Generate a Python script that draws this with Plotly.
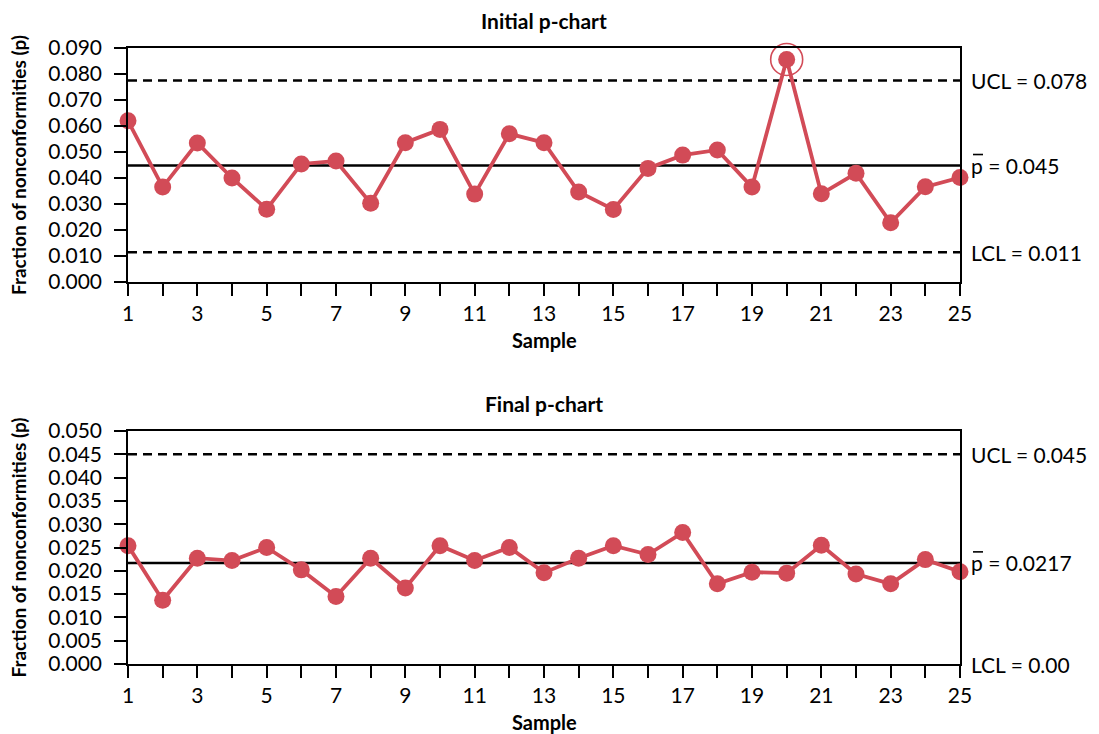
import plotly.graph_objects as go

# ---------------- data ----------------
samples = list(range(1, 26))
initial_p = [0.0620, 0.0365, 0.0535, 0.0400, 0.0280, 0.0454, 0.0465, 0.0303, 0.0536, 0.0587,
             0.0338, 0.0570, 0.0536, 0.0346, 0.0279, 0.0437, 0.0488, 0.0508, 0.0365, 0.0856,
             0.0339, 0.0418, 0.0228, 0.0366, 0.0402]
final_p = [0.0254, 0.0137, 0.0227, 0.0222, 0.0250, 0.0202, 0.0145, 0.0227, 0.0163, 0.0254,
           0.0222, 0.0250, 0.0196, 0.0227, 0.0254, 0.0235, 0.0282, 0.0172, 0.0197, 0.0195,
           0.0255, 0.0193, 0.0172, 0.0224, 0.0198]
initial_limits = {"UCL": 0.0775, "center": 0.0448, "LCL": 0.0114}
final_limits = {"UCL": 0.0450, "center": 0.0217, "LCL": 0.0}
initial_labels = {"UCL": "UCL = 0.078", "center": "p = 0.045", "LCL": "LCL = 0.011"}
final_labels = {"UCL": "UCL = 0.045", "center": "p = 0.0217", "LCL": "LCL = 0.00"}
out_of_control = [20]
initial_yticks = [0.000, 0.010, 0.020, 0.030, 0.040, 0.050, 0.060, 0.070, 0.080, 0.090]
final_yticks = [0.000, 0.005, 0.010, 0.015, 0.020, 0.025, 0.030, 0.035, 0.040, 0.045, 0.050]
xtick_text = [str(s) if s % 2 == 1 else "" for s in samples]
y_title = "Fraction of nonconformities (p)"

# ---------------- style / layout ----------------
RED = "#d24b57"
FONT = "Lato"
OFF = 8  # page body margin offset
W, H = 1091, 726
ML, MR, MT, MB = 120, 139, 40, 70
PW = W - ML - MR
PH = H - MT - MB


def pdom(top_px, bot_px):
    # page pixel rows -> paper fractions
    return [(H - MB - (bot_px - OFF)) / PH, (H - MB - (top_px - OFF)) / PH]


top_dom = pdom(48, 282)
bot_dom = pdom(431, 664)

fig = go.Figure()

panels = [
    ("x", "y", initial_p, initial_limits, initial_labels, initial_yticks, 0.090, top_dom, "Initial p-chart", True),
    ("x2", "y2", final_p, final_limits, final_labels, final_yticks, 0.050, bot_dom, "Final p-chart", False),
]

for xa, ya, vals, lim, lab, yt, ymax, dom, title, draw_lcl in panels:
    fig.add_trace(go.Scatter(
        x=samples, y=vals, xaxis=xa, yaxis=ya, mode="lines+markers",
        line=dict(color=RED, width=3.8),
        marker=dict(color=RED, size=17),
        cliponaxis=False, showlegend=False))
    xd = f"{xa} domain"
    fig.add_shape(type="line", xref=xd, yref=ya, x0=0, x1=1, y0=lim["center"], y1=lim["center"],
                  line=dict(color="black", width=2.5), layer="below")
    fig.add_shape(type="line", xref=xd, yref=ya, x0=0, x1=1, y0=lim["UCL"], y1=lim["UCL"],
                  line=dict(color="black", width=2.5, dash="9px,6px"), layer="below")
    if draw_lcl:
        fig.add_shape(type="line", xref=xd, yref=ya, x0=0, x1=1, y0=lim["LCL"], y1=lim["LCL"],
                      line=dict(color="black", width=2.5, dash="9px,6px"), layer="below")
    for k in ["UCL", "center", "LCL"]:
        fig.add_annotation(xref=xd, yref=ya, x=1, y=lim[k], text=lab[k], showarrow=False,
                           xanchor="left", yanchor="middle", xshift=9,
                           font=dict(family=FONT, size=21, color="black"))
    # overline above the p of p-bar
    yc = dom[0] + lim["center"] / ymax * (dom[1] - dom[0])
    fig.add_shape(type="line", xref="paper", yref="paper",
                  x0=(973 - OFF - ML) / PW, x1=(983 - OFF - ML) / PW,
                  y0=yc + 11 / PH, y1=yc + 11 / PH, line=dict(color="black", width=1.6))
    # panel title, x title, y title
    fig.add_annotation(xref="paper", yref="paper", x=0.5, y=dom[1], yshift=28, text=f"<b>{title}</b>",
                       showarrow=False, xanchor="center", yanchor="middle",
                       font=dict(family=FONT, size=21, color="black"))
    fig.add_annotation(xref="paper", yref="paper", x=0.5, y=dom[0], yshift=-58, text="<b>Sample</b>",
                       showarrow=False, xanchor="center", yanchor="middle",
                       font=dict(family=FONT, size=20, color="black"))
    fig.add_annotation(xref="paper", yref="paper", x=(18 - OFF - ML) / PW, y=(dom[0] + dom[1]) / 2,
                       text=f"<b>{y_title}</b>", textangle=-90, showarrow=False,
                       xanchor="center", yanchor="middle",
                       font=dict(family=FONT, size=19, color="black"))

# out-of-control ring
fig.add_trace(go.Scatter(
    x=out_of_control, y=[initial_p[s - 1] for s in out_of_control], xaxis="x", yaxis="y",
    mode="markers", marker=dict(symbol="circle-open", size=32, color=RED, line=dict(width=1.6, color=RED)),
    cliponaxis=False, showlegend=False))

axis_common = dict(showgrid=False, zeroline=False, showline=True, linecolor="black", linewidth=1.5,
                   mirror=True, ticks="outside", ticklen=12, tickwidth=1.5, tickcolor="black",
                   tickfont=dict(family=FONT, size=21, color="black"))

fig.update_layout(
    width=W, height=H, margin=dict(l=ML, r=MR, t=MT, b=MB),
    paper_bgcolor="white", plot_bgcolor="white",
    xaxis=dict(axis_common, range=[1, 25], tickvals=samples, ticktext=xtick_text, anchor="y", domain=[0, 1]),
    yaxis=dict(axis_common, range=[0, 0.090], tickvals=initial_yticks, tickformat=".3f", domain=top_dom,
               anchor="x", ticklabelstandoff=8),
    xaxis2=dict(axis_common, range=[1, 25], tickvals=samples, ticktext=xtick_text, anchor="y2", domain=[0, 1]),
    yaxis2=dict(axis_common, range=[0, 0.050], tickvals=final_yticks, tickformat=".3f", domain=bot_dom,
                anchor="x2", ticklabelstandoff=8),
)

fig.write_html("out.html")
